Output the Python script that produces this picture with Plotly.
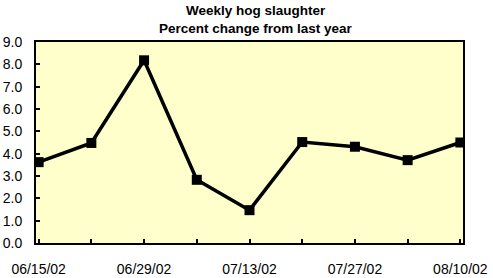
import plotly.graph_objects as go

dates = ["06/15/02", "06/22/02", "06/29/02", "07/06/02", "07/13/02",
         "07/20/02", "07/27/02", "08/03/02", "08/10/02"]
values = [3.62, 4.48, 8.18, 2.83, 1.47, 4.52, 4.31, 3.71, 4.5]
tick_text = [d if i % 2 == 0 else "" for i, d in enumerate(dates)]
y_ticks = [0, 1, 2, 3, 4, 5, 6, 7, 8, 9]
title_lines = ["Weekly hog slaughter", "Percent change from last year"]

fig = go.Figure()
fig.add_trace(go.Scatter(
    x=list(range(len(dates))), y=values, mode="lines+markers",
    line=dict(color="black", width=3.5),
    marker=dict(symbol="square", size=10, color="black"),
    hoverinfo="skip", showlegend=False,
))

plot_top, plot_bottom = 42, 243
for line, ypix in zip(title_lines, [11, 29]):
    fig.add_annotation(
        text="<b>%s</b>" % line, xref="paper", yref="paper",
        x=0.515, y=(plot_bottom - ypix) / (plot_bottom - plot_top),
        xanchor="center", yanchor="middle", showarrow=False,
        font=dict(size=13.5, color="black"),
    )

fig.update_layout(
    width=493, height=278,
    margin=dict(l=36, r=30, t=42, b=35),
    paper_bgcolor="white", plot_bgcolor="#FFFFCC",
    font=dict(family="Arial, Liberation Sans, sans-serif", size=14, color="black"),
)
fig.update_xaxes(
    range=[-0.05, 8.05], tickvals=list(range(len(dates))), ticktext=tick_text,
    ticks="inside", ticklen=4, tickwidth=2, tickcolor="black",
    showline=True, linecolor="black", linewidth=2, mirror=True,
    showgrid=False, zeroline=False, tickangle=0, ticklabelstandoff=12,
    automargin=False,
)
fig.update_yaxes(
    range=[0, 9], tickvals=y_ticks, tickformat=".1f",
    ticks="inside", ticklen=4, tickwidth=2, tickcolor="black",
    showline=True, linecolor="black", linewidth=2, mirror=True,
    showgrid=False, zeroline=False, ticklabelstandoff=9,
    automargin=False,
)
fig.write_html("out.html")
